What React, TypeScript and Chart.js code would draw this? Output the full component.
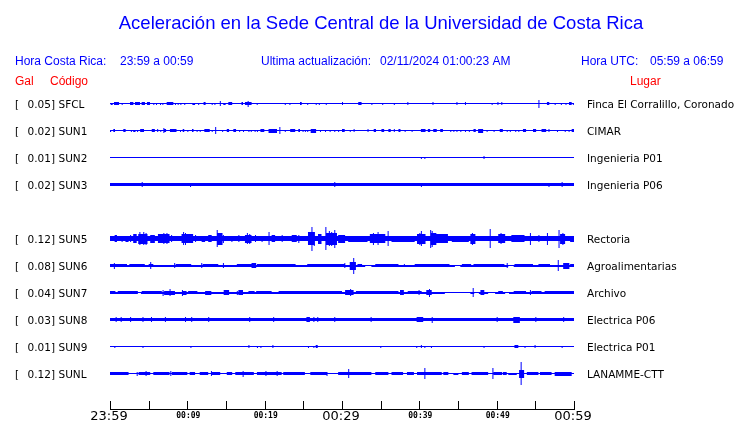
import React, { useEffect, useRef } from 'react';
import { Chart, registerables } from 'chart.js';

Chart.register(...registerables);

type Ev = [number, number, number]; // [start minute, duration (min), amplitude]

const titleText = 'Aceleración en la Sede Central de la Universidad de Costa Rica';
const stationCodes = ['SFCL', 'SUN1', 'SUN2', 'SUN3', 'SUN5', 'SUN6', 'SUN7', 'SUN8', 'SUN9', 'SUNL'];
const peakGal = ['0.05', '0.02', '0.01', '0.02', '0.12', '0.08', '0.04', '0.03', '0.01', '0.12'];
const placeNames = [
  'Finca El Corralillo, Coronado',
  'CIMAR',
  'Ingenieria P01',
  'Ingenieria P06',
  'Rectoria',
  'Agroalimentarias',
  'Archivo',
  'Electrica P06',
  'Electrica P01',
  'LANAMME-CTT',
];
const rowSlots = [0, 1, 2, 3, 5, 6, 7, 8, 9, 10];
const baseAmp = [1, 1, 1, 3, 5, 2, 2, 3, 1, 1];

const sfclEv: Ev[] = [
  [0.09, 0.26, 2], [0.52, 0.65, 3], [1.51, 0.13, 2], [2.59, 0.43, 3], [3.23, 0.65, 3], [4.09, 0.43, 3],
  [4.78, 0.39, 3], [5.6, 0.13, 2], [5.95, 0.13, 2], [6.47, 0.13, 2], [6.77, 0.13, 2], [7.33, 0.86, 3],
  [8.4, 0.13, 2], [8.75, 0.13, 2], [9.1, 0.13, 2], [9.6, 0.13, 2], [10.65, 0.35, 2], [11.4, 0.13, 2],
  [12.1, 0.26, 3], [13.15, 0.13, 2], [13.5, 0.13, 2], [14.2, 0.13, 5], [14.65, 0.3, 2], [15.3, 0.5, 3],
  [17.0, 0.2, 3], [17.45, 0.86, 3], [17.8, 0.13, 6], [18.97, 0.13, 2], [22.6, 0.13, 2], [23.2, 0.13, 2],
  [24.57, 0.22, 3], [25.5, 0.13, 2], [26.6, 0.13, 2], [27.0, 0.13, 2], [27.9, 0.13, 2], [30.0, 0.13, 3],
  [32.1, 0.43, 3], [33.8, 0.13, 2], [35.2, 0.13, 2], [36.7, 0.13, 2], [38.45, 0.13, 3], [41.7, 0.13, 3],
  [44.8, 0.13, 3], [45.9, 0.13, 3], [49.35, 0.13, 2], [50.1, 0.13, 3], [50.6, 0.13, 3], [55.4, 0.13, 8],
  [56.5, 0.3, 3], [57.5, 0.13, 2], [58.3, 0.13, 2], [58.9, 0.13, 2], [59.35, 0.35, 3], [59.85, 0.13, 2],
];
const sun1Ev: Ev[] = [
  [0.0, 0.15, 2], [0.43, 0.22, 3], [1.72, 0.3, 3], [2.7, 0.13, 2], [3.0, 0.3, 2], [3.5, 0.13, 2],
  [3.9, 0.5, 3], [5.4, 0.4, 3], [6.1, 0.13, 3], [6.5, 0.13, 2], [6.9, 0.13, 5], [7.0, 0.25, 3],
  [7.75, 0.85, 3], [9.05, 0.13, 2], [9.4, 0.2, 3], [10.0, 0.13, 2], [10.6, 0.2, 3], [11.2, 0.13, 2],
  [11.6, 0.13, 2], [12.2, 0.7, 3], [13.15, 0.13, 2], [13.6, 0.13, 7], [14.5, 0.13, 2], [15.1, 0.3, 3],
  [15.95, 0.35, 3], [16.7, 0.13, 2], [17.2, 0.13, 2], [17.9, 0.13, 2], [18.2, 0.13, 2], [18.7, 0.13, 2],
  [19.0, 0.13, 2], [19.45, 0.5, 3], [20.5, 1.1, 4], [21.9, 0.13, 7], [22.6, 0.13, 2], [23.3, 0.65, 3],
  [24.35, 0.22, 3], [24.9, 0.13, 2], [25.2, 0.13, 2], [25.5, 0.13, 2], [25.95, 0.7, 4], [27.15, 0.13, 2],
  [27.8, 0.13, 2], [28.4, 0.13, 2], [29.0, 0.13, 2], [29.5, 0.13, 2], [30.0, 0.35, 3], [31.0, 0.13, 2],
  [31.5, 0.13, 3], [33.3, 0.13, 3], [34.1, 0.3, 3], [35.1, 0.35, 3], [36.0, 0.3, 3], [36.7, 0.13, 3],
  [37.3, 0.26, 3], [38.1, 0.13, 2], [39.0, 0.13, 2], [40.2, 0.6, 3], [41.1, 0.3, 3], [41.8, 0.45, 3],
  [42.7, 0.35, 3], [44.0, 0.13, 2], [44.4, 0.13, 2], [44.8, 0.13, 2], [45.3, 0.13, 2], [45.9, 0.13, 2],
  [46.4, 0.13, 2], [47.0, 0.3, 3], [47.6, 0.65, 4], [48.7, 0.13, 2], [49.6, 0.13, 2], [50.4, 0.4, 3],
  [51.3, 0.13, 2], [51.7, 0.13, 2], [52.4, 0.13, 2], [52.8, 0.13, 2], [53.4, 0.4, 3], [54.7, 0.4, 3],
  [55.8, 0.6, 3], [56.7, 0.13, 3], [57.8, 0.13, 2], [58.8, 0.13, 2], [59.3, 0.13, 2], [59.7, 0.3, 3],
];
const sun2Ev: Ev[] = [[40.2, 0.13, 2], [40.65, 0.13, 2], [48.3, 0.13, 3]];
const sun3Ev: Ev[] = [
  [4.1, 0.13, 5], [10.35, 0.13, 4], [29.0, 0.13, 5], [40.2, 0.13, 4], [56.7, 0.13, 4], [58.4, 0.13, 5],
];
const sun5Ev: Ev[] = [
  [0.6, 0.3, 7], [1.5, 0.13, 6], [2.0, 0.4, 6], [2.6, 0.13, 7], [3.0, 0.45, 9], [3.65, 1.2, 10],
  [3.8, 0.13, 13], [4.3, 0.13, 13], [4.6, 0.13, 12], [5.2, 0.6, 8], [6.2, 1.5, 9], [6.9, 0.13, 11],
  [7.3, 0.13, 11], [7.9, 0.13, 7], [9.25, 1.5, 9], [9.45, 0.13, 13], [9.7, 0.13, 12], [11.0, 0.13, 7],
  [11.85, 0.45, 6], [12.7, 0.45, 7], [13.8, 0.13, 17], [13.9, 0.65, 12], [14.6, 0.13, 8], [15.7, 0.13, 6],
  [16.6, 0.13, 7], [17.45, 0.85, 8], [17.7, 0.13, 11], [18.0, 0.13, 10], [18.75, 0.13, 7], [19.6, 0.13, 6],
  [20.5, 0.13, 13], [20.9, 0.45, 7], [22.2, 0.13, 7], [23.5, 0.65, 7], [24.35, 0.13, 8], [25.6, 0.9, 13],
  [26.05, 0.13, 24], [26.35, 0.13, 14], [26.9, 0.45, 10], [27.85, 0.13, 23], [27.95, 1.4, 12],
  [28.3, 0.13, 15], [28.6, 0.13, 14], [29.0, 0.13, 18], [29.5, 0.9, 8], [30.8, 2.5, 6], [33.6, 2.0, 9],
  [34.0, 0.13, 12], [34.6, 0.13, 13], [35.9, 0.13, 15], [36.4, 3.0, 6], [39.7, 1.1, 10], [40.0, 0.13, 12],
  [40.2, 0.13, 15], [41.4, 0.13, 18], [41.6, 0.13, 16], [41.5, 0.7, 12], [42.2, 1.5, 9], [44.2, 2.2, 6],
  [46.6, 0.65, 10], [46.8, 0.13, 12], [49.1, 0.13, 19], [50.2, 0.9, 9], [50.5, 0.13, 11], [51.9, 1.7, 7],
  [54.3, 0.13, 12], [55.4, 0.13, 7], [56.5, 0.13, 12], [58.0, 0.13, 18], [58.2, 0.65, 10], [58.5, 0.13, 12],
  [59.5, 0.5, 6],
];
const sun6Ev: Ev[] = [
  [0.0, 2.2, 3], [0.5, 0.13, 6], [2.5, 2.0, 3], [5.0, 0.6, 3], [5.2, 0.13, 7], [8.3, 0.13, 5],
  [8.5, 2.0, 3], [11.8, 0.13, 5], [12.0, 2.0, 3], [14.6, 0.13, 5], [16.4, 2.0, 3], [18.3, 0.6, 5],
  [19.0, 5.0, 3], [25.5, 4.8, 3], [30.3, 0.13, 5], [31.0, 0.8, 8], [31.45, 0.13, 16], [32.0, 0.6, 3],
  [33.0, 0.8, 1], [34.3, 3.0, 3], [38.0, 0.13, 3], [39.4, 4.5, 3], [44.6, 0.7, 1], [45.5, 1.2, 3],
  [47.0, 4.0, 3], [51.3, 0.13, 5], [51.5, 0.7, 1], [52.3, 2.4, 3], [55.4, 1.5, 3], [57.9, 0.13, 11],
  [58.6, 0.8, 6], [59.5, 0.5, 3],
];
const sun7Ev: Ev[] = [
  [0.0, 0.7, 3], [1.0, 2.6, 3], [3.6, 0.4, 1], [4.1, 2.6, 3], [6.8, 0.13, 6], [7.0, 1.4, 4],
  [7.7, 0.13, 7], [9.3, 0.13, 6], [9.4, 0.5, 4], [10.1, 1.2, 3], [12.3, 0.8, 4], [14.7, 0.7, 5],
  [16.4, 0.13, 4], [16.6, 0.6, 5], [17.9, 0.8, 3], [18.9, 2.0, 3], [21.8, 8.2, 3], [30.4, 1.1, 5],
  [31.05, 0.13, 7], [31.8, 5.5, 3], [37.5, 0.5, 5], [38.5, 1.8, 3], [39.9, 0.13, 5], [40.9, 0.7, 5],
  [41.25, 0.13, 8], [43.3, 3.3, 1], [46.9, 0.13, 9], [47.1, 0.6, 1], [47.9, 0.5, 5], [48.9, 0.9, 1],
  [50.2, 0.6, 3], [51.1, 0.5, 1], [52.2, 1.6, 3], [54.3, 0.13, 5], [54.5, 1.3, 3], [56.2, 3.8, 3],
];
const sun8Ev: Ev[] = [
  [0.73, 0.13, 5], [1.38, 0.13, 5], [2.6, 0.13, 5], [4.2, 0.13, 5], [5.3, 0.13, 5], [7.1, 0.13, 5],
  [9.7, 0.13, 5], [10.5, 0.13, 5], [12.7, 0.13, 5], [18.0, 0.13, 5], [21.1, 0.13, 5], [25.4, 0.45, 5],
  [26.3, 0.13, 5], [26.8, 0.13, 5], [29.0, 0.13, 5], [33.7, 0.13, 5], [39.65, 0.85, 5], [41.6, 0.13, 6],
  [50.0, 0.13, 5], [52.15, 0.85, 6], [55.0, 0.13, 5], [58.6, 0.13, 5],
];
const sun9Ev: Ev[] = [
  [0.56, 0.13, 2], [4.2, 0.13, 2], [10.4, 0.13, 2], [17.9, 0.13, 3], [19.0, 0.13, 2], [19.45, 0.13, 2],
  [21.0, 0.13, 3], [25.6, 0.13, 2], [26.3, 0.13, 2], [26.6, 0.26, 3], [34.95, 0.13, 2], [39.6, 0.13, 2],
  [40.2, 0.13, 3], [40.65, 0.13, 2], [41.5, 0.13, 2], [48.3, 0.13, 2], [52.3, 0.5, 3], [53.6, 0.13, 2],
  [54.9, 0.13, 3], [58.4, 0.13, 2],
];
const sunlEv: Ev[] = [
  [0.0, 2.4, 3], [3.45, 0.13, 4], [3.7, 1.5, 3], [4.6, 0.13, 5], [5.6, 2.1, 3], [7.8, 0.13, 5],
  [8.0, 2.0, 3], [10.3, 0.7, 3], [11.6, 1.1, 3], [13.05, 0.13, 5], [13.15, 1.1, 3], [15.1, 0.7, 3],
  [16.2, 2.4, 3], [17.15, 0.13, 6], [19.0, 3.2, 3], [20.1, 0.13, 5], [21.55, 0.13, 5], [22.4, 2.8, 3],
  [25.9, 2.15, 3], [28.0, 0.13, 4], [29.5, 4.3, 3], [30.8, 0.13, 9], [34.3, 1.7, 3], [36.4, 1.5, 3],
  [38.4, 0.9, 3], [39.7, 3.2, 3], [40.65, 0.13, 11], [43.1, 0.65, 3], [44.4, 0.65, 2], [45.5, 0.9, 3],
  [46.75, 2.15, 3], [49.45, 0.13, 11], [49.6, 1.1, 3], [50.8, 0.5, 3], [51.5, 1.1, 2], [52.9, 0.65, 8],
  [53.1, 0.13, 23], [53.9, 1.5, 3], [55.6, 1.5, 3], [57.5, 2.2, 4],
];
const eventsByStation: Ev[][] = [sfclEv, sun1Ev, sun2Ev, sun3Ev, sun5Ev, sun6Ev, sun7Ev, sun8Ev, sun9Ev, sunlEv];

const tickMinutes = [0, 5, 10, 15, 20, 25, 30, 35, 40, 45, 50, 55, 60];
const labelMinutes = [0, 10, 20, 30, 40, 50, 60];
const timeLabels = ['23:59', '00:09', '00:19', '00:29', '00:39', '00:49', '00:59'];
const majorLabels = ['23:59', '00:29', '00:59'];

const TRACE_Y0 = 13;
const TRACE_STEP = 27;
const BLUE = '#0000ff';
const RED = '#ff0000';

function envelope(base: number, evs: Ev[]) {
  const set = new Set<number>([0, 60]);
  evs.forEach(([t, d]) => {
    set.add(Math.max(0, t));
    set.add(Math.min(60, +(t + d).toFixed(3)));
  });
  const xs = Array.from(set).sort((a, b) => a - b);
  return xs.map((x) => {
    let h: number | null = null;
    for (const [t, d, a] of evs) {
      if (x >= t && x < t + d - 1e-9) h = h === null ? a : Math.max(h, a);
    }
    return { x, h: h === null ? base : h };
  });
}

const textPlugin = {
  id: 'seismoText',
  afterDraw(chart: any) {
    const ctx: CanvasRenderingContext2D = chart.ctx;
    const xs = chart.scales.x;
    const area = chart.chartArea;
    ctx.save();
    ctx.textBaseline = 'alphabetic';

    // Title
    ctx.fillStyle = BLUE;
    ctx.font = '18.5px "Liberation Sans", Arial, sans-serif';
    ctx.textAlign = 'center';
    ctx.fillText(titleText, 381, 29);

    // Header line
    ctx.font = '12px "Liberation Sans", Arial, sans-serif';
    ctx.textAlign = 'left';
    ctx.fillText('Hora Costa Rica:', 15, 65);
    ctx.fillText('23:59 a 00:59', 120, 65);
    ctx.fillText('Ultima actualización:', 261, 65);
    ctx.fillText('02/11/2024 01:00:23 AM', 380, 65);
    ctx.fillText('Hora UTC:', 581, 65);
    ctx.fillText('05:59 a 06:59', 650, 65);

    ctx.fillStyle = RED;
    ctx.fillText('Gal', 15, 85);
    ctx.fillText('Código', 50, 85);
    ctx.fillText('Lugar', 630, 85);

    // Station labels
    ctx.fillStyle = '#000000';
    ctx.font = '10.5px "DejaVu Sans", sans-serif';
    stationCodes.forEach((code, i) => {
      const yv = TRACE_Y0 + TRACE_STEP * rowSlots[i];
      const py = Math.round(chart.scales.y.getPixelForValue(yv)) + 4.5;
      ctx.textAlign = 'left';
      ctx.fillText('[', 15, py);
      ctx.textAlign = 'right';
      ctx.fillText(peakGal[i] + ']', 55, py);
      ctx.textAlign = 'left';
      ctx.fillText(code, 58.5, py);
      ctx.fillText(placeNames[i], 587, py);
    });

    // Time axis
    const axisY = area.bottom + 0.5;
    ctx.strokeStyle = '#000000';
    ctx.lineWidth = 1;
    ctx.beginPath();
    const x0 = Math.round(xs.getPixelForValue(0)) + 0.5;
    const x1 = Math.round(xs.getPixelForValue(60)) + 0.5;
    ctx.moveTo(x0 - 0.5, axisY);
    ctx.lineTo(x1 + 0.5, axisY);
    tickMinutes.forEach((m) => {
      const px = Math.round(xs.getPixelForValue(m)) + 0.5;
      ctx.moveTo(px, axisY);
      ctx.lineTo(px, axisY - 8.5);
    });
    ctx.stroke();

    ctx.fillStyle = '#000000';
    ctx.textAlign = 'center';
    labelMinutes.forEach((m, i) => {
      const px = xs.getPixelForValue(m);
      const lbl = timeLabels[i];
      if (majorLabels.includes(lbl)) {
        ctx.font = '13px "DejaVu Sans", sans-serif';
        ctx.fillText(lbl, px - 1, 420);
      } else {
        ctx.font = 'bold 8px "DejaVu Sans Mono", monospace';
        ctx.fillText(lbl, px + 1, 418);
      }
    });
    ctx.restore();
  },
};

export default function App() {
  const ref = useRef<HTMLCanvasElement | null>(null);

  useEffect(() => {
    if (!ref.current) return;
    document.body.style.margin = '0';
    const datasets: any[] = [];
    stationCodes.forEach((code, i) => {
      const center = TRACE_Y0 + TRACE_STEP * rowSlots[i];
      const pts = envelope(baseAmp[i], eventsByStation[i]);
      const top = pts.map((p) => ({ x: p.x, y: center - Math.floor((p.h - 1) / 2) }));
      const bottom = pts.map((p) => ({ x: p.x, y: center - Math.floor((p.h - 1) / 2) + p.h }));
      datasets.push({
        label: code + ' top',
        data: top,
        stepped: true,
        borderColor: 'rgba(0,0,0,0)',
        borderWidth: 0,
        pointRadius: 0,
        fill: false,
      });
      datasets.push({
        label: code,
        data: bottom,
        stepped: true,
        borderColor: 'rgba(0,0,0,0)',
        borderWidth: 0,
        pointRadius: 0,
        fill: '-1',
        backgroundColor: BLUE,
      });
    });

    const chart = new Chart(ref.current, {
      type: 'line',
      data: { datasets },
      options: {
        animation: false,
        responsive: false,
        devicePixelRatio: 1,
        events: [],
        layout: { padding: { left: 110, right: 166, top: 90, bottom: 14 } },
        scales: {
          x: { type: 'linear', min: 0, max: 60, display: false },
          y: { type: 'linear', min: 0, max: 319, reverse: true, display: false },
        },
        plugins: { legend: { display: false }, tooltip: { enabled: false }, title: { display: false } },
      },
      plugins: [textPlugin],
    } as any);
    return () => chart.destroy();
  }, []);

  return (
    <canvas
      ref={ref}
      width={740}
      height={423}
      style={{ position: 'absolute', left: 0, top: 0, width: 740, height: 423, background: '#ffffff' }}
    />
  );
}
